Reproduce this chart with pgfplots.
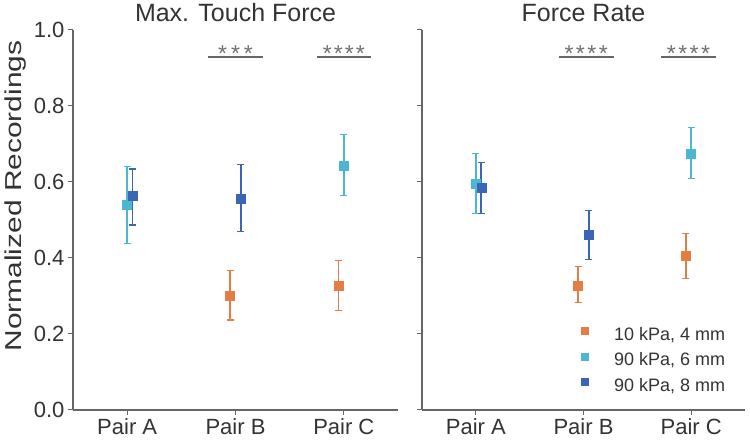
\documentclass[border=0pt]{standalone}
\usepackage{pgfplots}
\pgfplotsset{compat=1.18}
\usepackage{pgfplotstable}
\usepackage{fontspec}
\setmainfont{Liberation Sans}
\definecolor{corange}{HTML}{E47C45}
\definecolor{ccyan}{HTML}{4DB6D3}
\definecolor{cblue}{HTML}{3A66B5}
\definecolor{txt}{HTML}{333333}
\definecolor{axc}{HTML}{666666}
\definecolor{starc}{HTML}{707070}

% x y ep em  (x: 0 = Pair A, 1 = Pair B, 2 = Pair C, with small offsets)
\pgfplotstableread{
x y ep em
0.95 0.300 0.068 0.063
1.95 0.326 0.067 0.065
}\LOrange
\pgfplotstableread{
x y ep em
0.00 0.539 0.101 0.100
2.00 0.642 0.083 0.078
}\LCyan
\pgfplotstableread{
x y ep em
0.05 0.563 0.071 0.076
1.05 0.557 0.090 0.088
}\LBlue
\pgfplotstableread{
x y ep em
0.95 0.327 0.050 0.045
1.95 0.405 0.060 0.060
}\ROrange
\pgfplotstableread{
x y ep em
0.00 0.596 0.079 0.078
2.00 0.675 0.069 0.065
}\RCyan
\pgfplotstableread{
x y ep em
0.05 0.585 0.067 0.067
1.05 0.461 0.064 0.064
}\RBlue

\tikzset{stars/.style={anchor=base, text=starc, font=\fontsize{23}{27}\selectfont, inner sep=0pt}}

\pgfplotsset{
  panel/.style={
    scale only axis, height=380pt,
    xmin=-0.5, xmax=2.5, ymin=0, ymax=1,
    axis x line*=bottom, axis y line*=left,
    axis line style={axc, line width=1.2pt},
    xtick={0,1,2}, xticklabels={Pair A, Pair B, Pair C},
    ytick={0,0.2,0.4,0.6,0.8,1},
    tick align=outside, major tick length=5pt,
    tick style={axc, line width=1pt},
    ticklabel style={font=\fontsize{22}{26}\selectfont, text=txt},
    yticklabel style={/pgf/number format/.cd, fixed, fixed zerofill, precision=1},
    /pgf/number format/assume math mode=true,
    title style={at={(0.5,1)}, anchor=base, yshift=2pt, font=\fontsize{25}{29}\selectfont, text=txt},
    clip=false,
  },
  eb/.style={only marks, mark=square*, mark size=4.5pt, color=#1,
    error bars/y dir=both, error bars/y explicit,
    error bars/error bar style={line width=1.6pt, color=#1},
    error bars/error mark options={rotate=90, mark size=3.5pt, line width=1.2pt, color=#1}},
}

\begin{document}
\begin{tikzpicture}
\useasboundingbox (0,0) rectangle (750pt,441pt);

\begin{axis}[panel, width=325pt, at={(73pt,31pt)}, anchor=south west,
  title={Max. Touch Force},
  ylabel={\scalebox{1.3}[1]{Normalized Recordings}},
  ylabel style={at={(axis description cs:-0.178,0.563)}, anchor=center, font=\fontsize{23}{27}\selectfont, text=txt},
]
\addplot[eb=corange] table[x=x, y=y, y error plus=ep, y error minus=em] {\LOrange};
\addplot[eb=ccyan] table[x=x, y=y, y error plus=ep, y error minus=em] {\LCyan};
\addplot[eb=cblue] table[x=x, y=y, y error plus=ep, y error minus=em] {\LBlue};
\addplot[axc, line width=1.2pt] coordinates {(0.75,0.929) (1.25,0.929)};
\addplot[axc, line width=1.2pt] coordinates {(1.75,0.929) (2.25,0.929)};
\node[stars] at (axis cs:1,0.918) {*\kern4pt*\kern4pt*};
\node[stars] at (axis cs:2,0.918) {*\kern2pt*\kern2pt*\kern2pt*};
\end{axis}

\begin{axis}[panel, width=323pt, at={(422pt,31pt)}, anchor=south west,
  title={Force Rate},
  yticklabels={},
  legend style={at={(axis description cs:0.492,0.218)}, anchor=north west,
    draw=none, fill=none, inner sep=0pt,
    font=\fontsize{18}{21}\selectfont, text=txt,
    nodes={inner sep=0pt, text height=13pt, text depth=4pt},
    row sep=8.5pt,
    /tikz/every odd column/.append style={column sep=26pt}},
  legend cell align=left,
  legend image code/.code={\draw[#1] plot[mark=square*, mark size=3.5pt, only marks] coordinates {(0pt,5pt)};},
]
\addplot[forget plot, eb=corange] table[x=x, y=y, y error plus=ep, y error minus=em] {\ROrange};
\addplot[forget plot, eb=ccyan] table[x=x, y=y, y error plus=ep, y error minus=em] {\RCyan};
\addplot[forget plot, eb=cblue] table[x=x, y=y, y error plus=ep, y error minus=em] {\RBlue};
\addplot[forget plot, axc, line width=1.2pt] coordinates {(0.77,0.929) (1.28,0.929)};
\addplot[forget plot, axc, line width=1.2pt] coordinates {(1.72,0.929) (2.23,0.929)};
\node[stars] at (axis cs:1.025,0.918) {*\kern2.5pt*\kern2.5pt*\kern2.5pt*};
\node[stars] at (axis cs:1.975,0.918) {*\kern2.5pt*\kern2.5pt*\kern2.5pt*};
\addlegendimage{corange}
\addlegendentry{10 kPa, 4 mm}
\addlegendimage{ccyan}
\addlegendentry{90 kPa, 6 mm}
\addlegendimage{cblue}
\addlegendentry{90 kPa, 8 mm}
\end{axis}
\end{tikzpicture}
\end{document}
